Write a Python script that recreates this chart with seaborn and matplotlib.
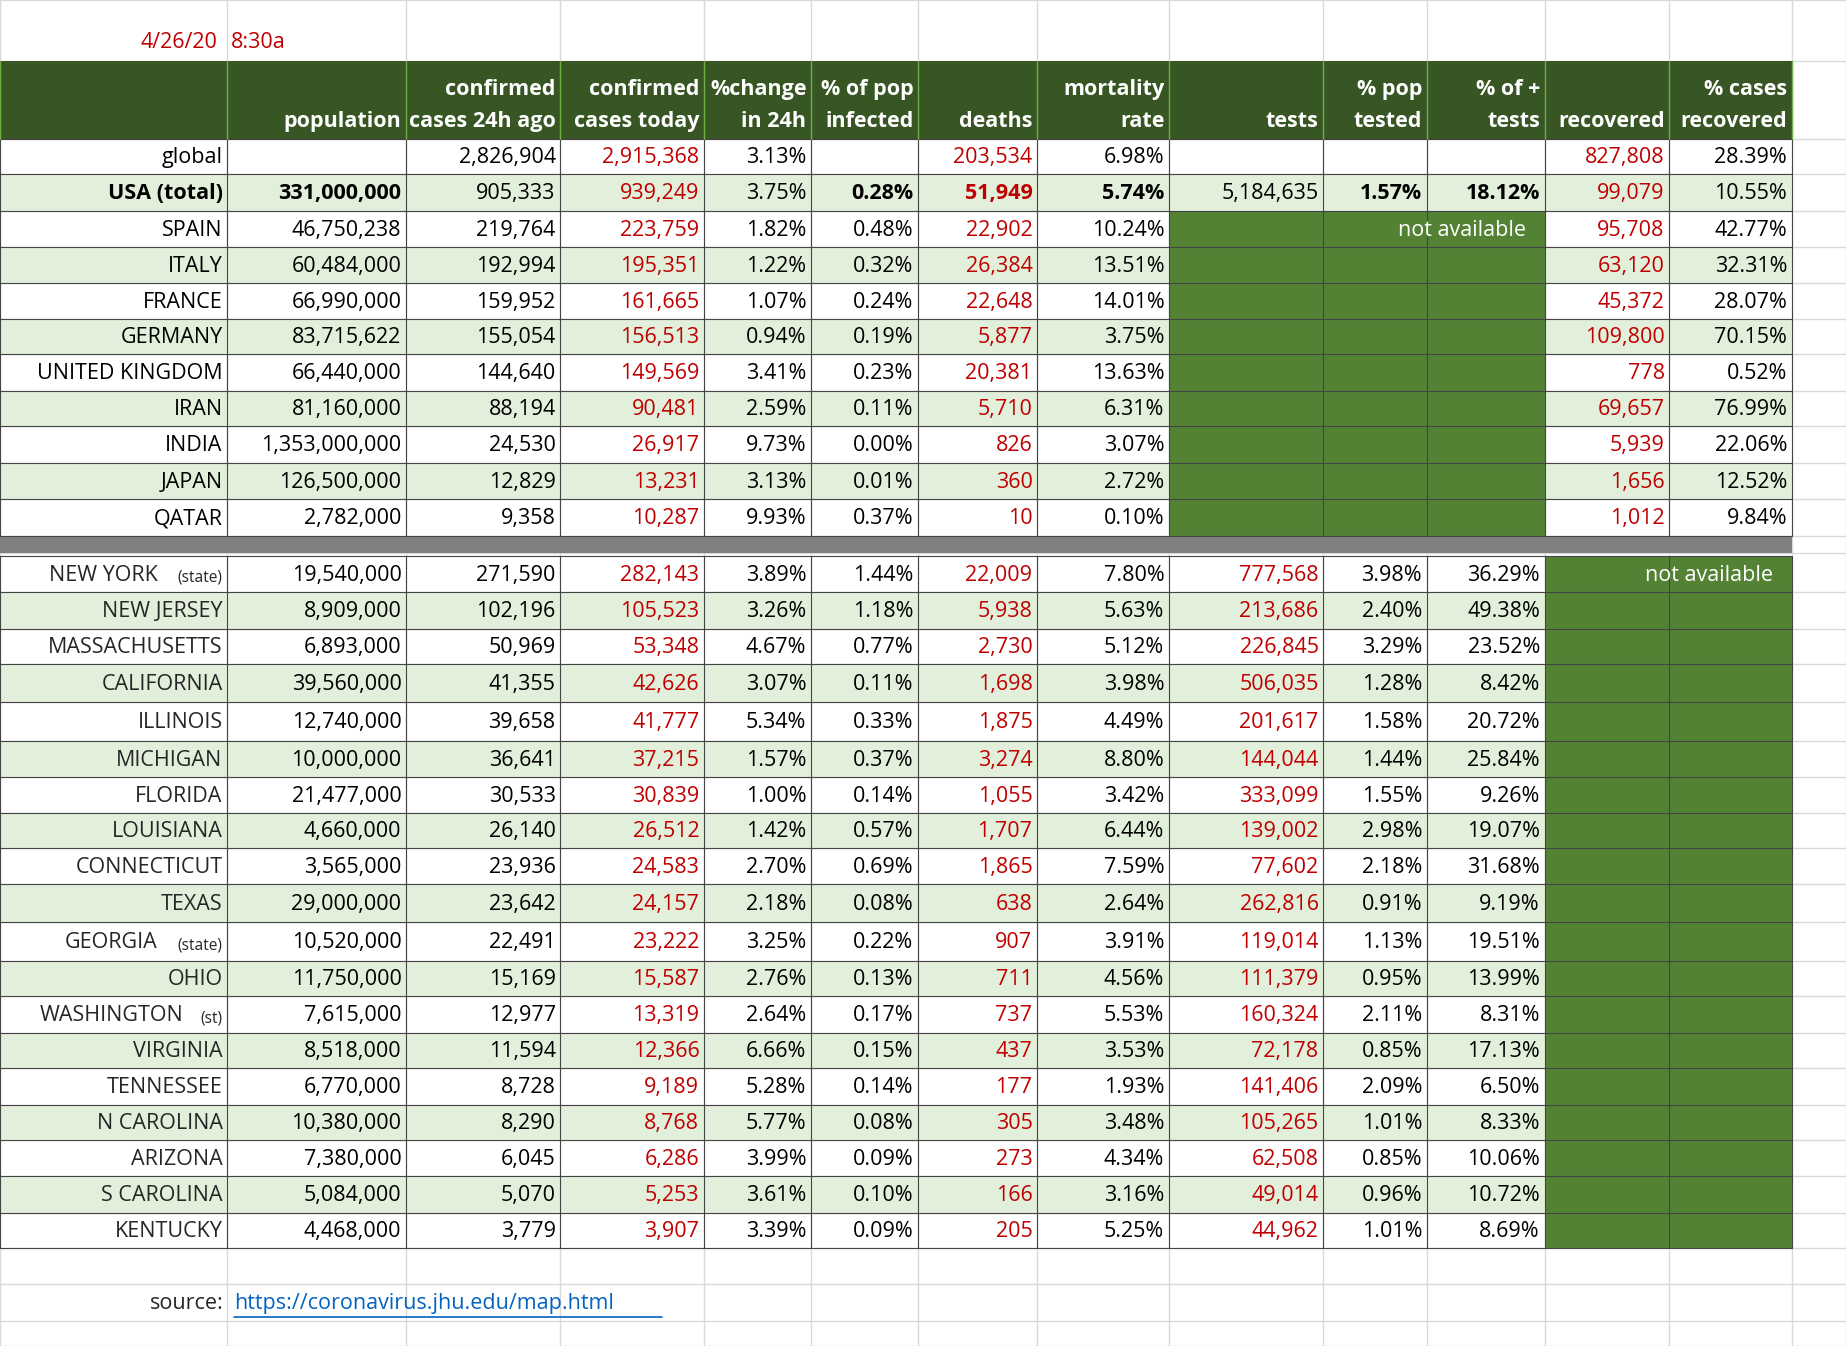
import matplotlib
matplotlib.use("Agg")
import matplotlib.pyplot as plt
from matplotlib.patches import Rectangle
import seaborn as sns

sns.set_theme(style="white")
plt.rcParams['font.family'] = ['Open Sans', 'DejaVu Sans']

# ---- data ----
headers = [("", "population"), ("confirmed", "cases 24h ago"), ("confirmed", "cases today"),
           ("%change", "in 24h"), ("% of pop", "infected"), ("", "deaths"), ("mortality", "rate"),
           ("", "tests"), ("% pop", "tested"), ("% of +", "tests"), ("", "recovered"), ("% cases", "recovered")]

top_names = ["global", "USA (total)", "SPAIN", "ITALY", "FRANCE", "GERMANY", "UNITED KINGDOM",
             "IRAN", "INDIA", "JAPAN", "QATAR"]
top_rows = [
    ["", "2,826,904", "2,915,368", "3.13%", "", "203,534", "6.98%", "", "", "", "827,808", "28.39%"],
    ["331,000,000", "905,333", "939,249", "3.75%", "0.28%", "51,949", "5.74%", "5,184,635", "1.57%", "18.12%", "99,079", "10.55%"],
    ["46,750,238", "219,764", "223,759", "1.82%", "0.48%", "22,902", "10.24%", "", "", "", "95,708", "42.77%"],
    ["60,484,000", "192,994", "195,351", "1.22%", "0.32%", "26,384", "13.51%", "", "", "", "63,120", "32.31%"],
    ["66,990,000", "159,952", "161,665", "1.07%", "0.24%", "22,648", "14.01%", "", "", "", "45,372", "28.07%"],
    ["83,715,622", "155,054", "156,513", "0.94%", "0.19%", "5,877", "3.75%", "", "", "", "109,800", "70.15%"],
    ["66,440,000", "144,640", "149,569", "3.41%", "0.23%", "20,381", "13.63%", "", "", "", "778", "0.52%"],
    ["81,160,000", "88,194", "90,481", "2.59%", "0.11%", "5,710", "6.31%", "", "", "", "69,657", "76.99%"],
    ["1,353,000,000", "24,530", "26,917", "9.73%", "0.00%", "826", "3.07%", "", "", "", "5,939", "22.06%"],
    ["126,500,000", "12,829", "13,231", "3.13%", "0.01%", "360", "2.72%", "", "", "", "1,656", "12.52%"],
    ["2,782,000", "9,358", "10,287", "9.93%", "0.37%", "10", "0.10%", "", "", "", "1,012", "9.84%"],
]

state_names = [("NEW YORK", "(state)"), ("NEW JERSEY", ""), ("MASSACHUSETTS", ""), ("CALIFORNIA", ""),
               ("ILLINOIS", ""), ("MICHIGAN", ""), ("FLORIDA", ""), ("LOUISIANA", ""), ("CONNECTICUT", ""),
               ("TEXAS", ""), ("GEORGIA", "(state)"), ("OHIO", ""), ("WASHINGTON", "(st)"), ("VIRGINIA", ""),
               ("TENNESSEE", ""), ("N CAROLINA", ""), ("ARIZONA", ""), ("S CAROLINA", ""), ("KENTUCKY", "")]
state_rows = [
    ["19,540,000", "271,590", "282,143", "3.89%", "1.44%", "22,009", "7.80%", "777,568", "3.98%", "36.29%"],
    ["8,909,000", "102,196", "105,523", "3.26%", "1.18%", "5,938", "5.63%", "213,686", "2.40%", "49.38%"],
    ["6,893,000", "50,969", "53,348", "4.67%", "0.77%", "2,730", "5.12%", "226,845", "3.29%", "23.52%"],
    ["39,560,000", "41,355", "42,626", "3.07%", "0.11%", "1,698", "3.98%", "506,035", "1.28%", "8.42%"],
    ["12,740,000", "39,658", "41,777", "5.34%", "0.33%", "1,875", "4.49%", "201,617", "1.58%", "20.72%"],
    ["10,000,000", "36,641", "37,215", "1.57%", "0.37%", "3,274", "8.80%", "144,044", "1.44%", "25.84%"],
    ["21,477,000", "30,533", "30,839", "1.00%", "0.14%", "1,055", "3.42%", "333,099", "1.55%", "9.26%"],
    ["4,660,000", "26,140", "26,512", "1.42%", "0.57%", "1,707", "6.44%", "139,002", "2.98%", "19.07%"],
    ["3,565,000", "23,936", "24,583", "2.70%", "0.69%", "1,865", "7.59%", "77,602", "2.18%", "31.68%"],
    ["29,000,000", "23,642", "24,157", "2.18%", "0.08%", "638", "2.64%", "262,816", "0.91%", "9.19%"],
    ["10,520,000", "22,491", "23,222", "3.25%", "0.22%", "907", "3.91%", "119,014", "1.13%", "19.51%"],
    ["11,750,000", "15,169", "15,587", "2.76%", "0.13%", "711", "4.56%", "111,379", "0.95%", "13.99%"],
    ["7,615,000", "12,977", "13,319", "2.64%", "0.17%", "737", "5.53%", "160,324", "2.11%", "8.31%"],
    ["8,518,000", "11,594", "12,366", "6.66%", "0.15%", "437", "3.53%", "72,178", "0.85%", "17.13%"],
    ["6,770,000", "8,728", "9,189", "5.28%", "0.14%", "177", "1.93%", "141,406", "2.09%", "6.50%"],
    ["10,380,000", "8,290", "8,768", "5.77%", "0.08%", "305", "3.48%", "105,265", "1.01%", "8.33%"],
    ["7,380,000", "6,045", "6,286", "3.99%", "0.09%", "273", "4.34%", "62,508", "0.85%", "10.06%"],
    ["5,084,000", "5,070", "5,253", "3.61%", "0.10%", "166", "3.16%", "49,014", "0.96%", "10.72%"],
    ["4,468,000", "3,779", "3,907", "3.39%", "0.09%", "205", "5.25%", "44,962", "1.01%", "8.69%"],
]

stamp = ("4/26/20", "8:30a")
source_url = "https://coronavirus.jhu.edu/map.html"

# ---- layout (pixel coords of a 1568x1143 sheet) ----
W, H = 1568, 1143
cols = [0, 193, 345, 476, 598, 689, 780, 881, 993, 1124, 1212, 1312, 1418, 1522]
sheet_rows = [0, 52, 118, 148, 179, 210, 240, 271, 301, 332, 362, 393, 424, 455, 470,
              503, 534, 564, 596, 629, 660, 690, 720, 751, 783, 816, 846, 877, 907, 938, 968, 999, 1030, 1060, 1090, 1122, 1143]
top_b = sheet_rows[2:14]
st_b = [472] + sheet_rows[15:34]

RED = "#C00000"
DKG = "#375623"
MDG = "#548235"
LTG = "#E2EFDA"
FS = 15.5

fig = plt.figure(figsize=(18.46, 13.46), dpi=100)
ax = fig.add_axes([0, 0, 1, 1])
ax.set_xlim(0, W)
ax.set_ylim(H, 0)
ax.axis("off")

def rect(x0, y0, x1, y1, c):
    ax.add_patch(Rectangle((x0, y0), x1 - x0, y1 - y0, facecolor=c, edgecolor="none", zorder=1))

# faint sheet grid
for x in cols + [W]:
    ax.plot([x, x], [0, H], color="#D9D9D9", lw=1, zorder=0)
for y in sheet_rows:
    ax.plot([0, W], [y, y], color="#D9D9D9", lw=1, zorder=0)

# header
rect(0, 52, cols[-1], 118, DKG)
for j, (l1, l2) in enumerate(headers):
    xr = cols[j + 2] - 4
    ax.text(xr, 76, l1, ha="right", va="center", color="white", fontsize=FS, fontweight="bold", zorder=5)
    ax.text(xr, 103, l2, ha="right", va="center", color="white", fontsize=FS, fontweight="bold", zorder=5)
for x in cols:
    ax.plot([x, x], [52, 118], color="#70AD47", lw=1, zorder=3)

# top block
for i, (name, row) in enumerate(zip(top_names, top_rows)):
    y0, y1 = top_b[i], top_b[i + 1]
    yc = (y0 + y1) / 2 + 1
    if i % 2 == 1:
        rect(0, y0, cols[-1], y1, LTG)
    bold_cols = {0, 4, 5, 6, 8, 9} if i == 1 else set()
    ax.text(cols[1] - 4, yc, name, ha="right", va="center", fontsize=FS, color="black",
            fontweight="bold" if i == 1 else "normal", zorder=5)
    for j, v in enumerate(row):
        c = RED if j in (2, 5, 10) else "black"
        ax.text(cols[j + 2] - 4, yc, v, ha="right", va="center", fontsize=FS, color=c,
                fontweight="bold" if j in bold_cols else "normal", zorder=5)
rect(cols[8], top_b[2], cols[11], top_b[-1], MDG)
ax.text(cols[11] - 16, (top_b[2] + top_b[3]) / 2 + 1, "not available", ha="right", va="center",
        fontsize=FS, color="white", zorder=5)

# separator
rect(0, 455, cols[-1], 470, "#808080")

# state block
for i, ((name, suf), row) in enumerate(zip(state_names, state_rows)):
    y0, y1 = st_b[i], st_b[i + 1]
    yc = (y0 + y1) / 2 + 1
    if i % 2 == 1:
        rect(0, y0, cols[-1], y1, LTG)
    xr = cols[1] - 4
    if suf:
        ax.text(xr, yc + 2, suf, ha="right", va="center", fontsize=FS * 0.72, zorder=5)
        xr -= 7.3 * len(suf) + 4
    ax.text(xr, yc, name, ha="right", va="center", fontsize=FS, zorder=5)
    for j, v in enumerate(row):
        c = RED if j in (2, 5, 7) else "black"
        ax.text(cols[j + 2] - 4, yc, v, ha="right", va="center", fontsize=FS, color=c, zorder=5)
rect(cols[11], st_b[0], cols[13], st_b[-1], MDG)
ax.text(cols[13] - 16, (st_b[0] + st_b[1]) / 2 + 1, "not available", ha="right", va="center",
        fontsize=FS, color="white", zorder=5)

# table cell borders
for blk in (top_b, st_b):
    for y in blk:
        ax.plot([0, cols[-1]], [y, y], color="#444444", lw=0.8, zorder=2)
    for x in cols:
        ax.plot([x, x], [blk[0], blk[-1]], color="#444444", lw=0.8, zorder=2)

# stamp and source
ax.text(185, 36, stamp[0], ha="right", va="center", fontsize=FS, color=RED, zorder=5)
ax.text(196, 36, stamp[1], ha="left", va="center", fontsize=FS, color=RED, zorder=5)
ax.text(190, 1107, "source:", ha="right", va="center", fontsize=FS, zorder=5)
t = ax.text(199, 1107, source_url, ha="left", va="center", fontsize=FS, color="#0563C1", zorder=5)
ax.plot([199, 562], [1118, 1118], color="#0563C1", lw=1.2, zorder=5)

fig.savefig("out.png", dpi=100, facecolor="white")
